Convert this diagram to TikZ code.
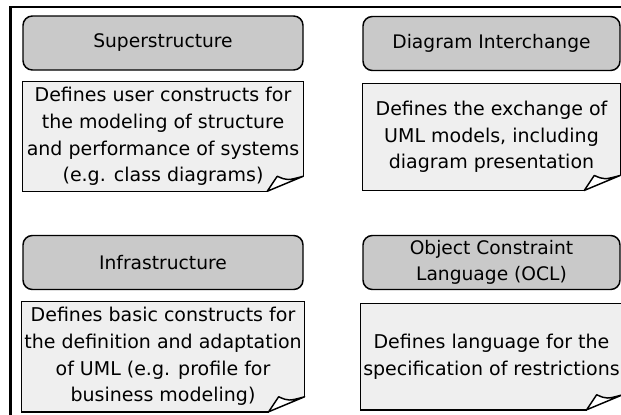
\documentclass[tikz,border=0pt]{standalone}
\usepackage{fontspec}
\setmainfont{DejaVu Sans}
\usepackage{xcolor}
\definecolor{HeadColor}{RGB}{201,201,201}
\definecolor{NoteColor}{RGB}{239,239,239}
\usetikzlibrary{positioning}

% outline of a note with a turned-down corner
\newcommand{\dogear}[1]{%
  \fill[white] ([xshift=-27pt]#1.south east) -- ([yshift=11.25pt]#1.south east) -- (#1.south east) -- cycle;
  \draw[line width=1.1pt] ([xshift=-27pt]#1.south east) -- (#1.south west) -- (#1.north west) -- (#1.north east) -- ([yshift=11.25pt]#1.south east);
  \filldraw[fill=white, line width=1.1pt, line join=round] ([xshift=-27pt]#1.south east) -- ([xshift=-19.5pt,yshift=11.25pt]#1.south east) .. controls ([xshift=-12pt,yshift=8pt]#1.south east) .. ([yshift=11.25pt]#1.south east) -- cycle;
}

\begin{document}
\begin{tikzpicture}[
    x=0.75pt, y=-0.75pt,
    header/.style={rectangle, draw, line width=1.1pt, rounded corners=7pt, fill=HeadColor, minimum width=210pt, minimum height=40.5pt, align=center, font=\fontsize{14}{20}\selectfont},
    note/.style={rectangle, fill=NoteColor, minimum width=210pt, minimum height=81.75pt, inner sep=2pt, align=center, font=\fontsize{14.25}{20}\selectfont},
]
\useasboundingbox (0,0) rectangle (621,414);
\clip (0,0) rectangle (621,414);

% Frame
\draw[line width=1.9pt] (10.5,7) rectangle (700,500);

% Superstructure
\node[header] (super) at (163,43) {Superstructure};
\node[note, below=8.25pt of super] (supernote) {
    Defines user constructs for\\
    the modeling of structure\\
    and performance of systems\\
    (e.g. class diagrams)
};

% Diagram Interchange
\node[header, minimum width=192.75pt] (dinter) at (491.5,43.5) {Diagram Interchange};
\node[note, minimum width=192.75pt, minimum height=80pt, below=9pt of dinter] (dinternote) {
    Defines the exchange of\\
    UML models, including\\
    diagram presentation
};

% Infrastructure
\node[header] (infra) at (163,262.5) {Infrastructure};
\node[note, minimum height=82.5pt, below=8.25pt of infra] (infranote) {
    Defines basic constructs for\\
    the definition and adaptation\\
    of UML (e.g. profile for\\
    business modeling)
};

% OCL
\node[header, minimum width=192.75pt] (ocl) at (491.5,262.5) {Object Constraint\\Language (OCL)};
\node[note, minimum width=192.75pt, minimum height=79.5pt, below=9.75pt of ocl] (oclnote) {
    Defines language for the\\
    specification of restrictions
};

% Folded corners
\dogear{supernote}
\dogear{dinternote}
\dogear{infranote}
\dogear{oclnote}

\end{tikzpicture}
\end{document}
